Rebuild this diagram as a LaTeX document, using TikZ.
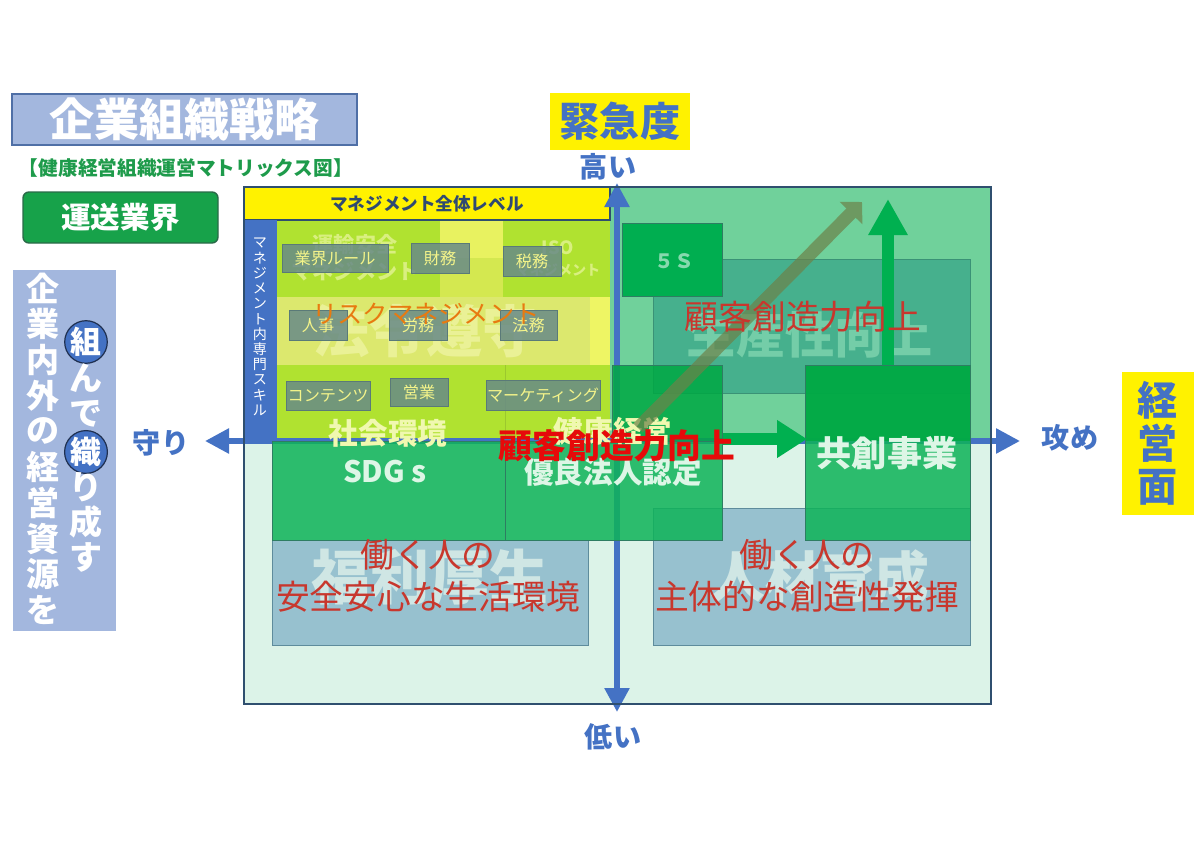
\documentclass[tikz,border=0pt]{standalone}
\usepackage{fontspec}
\setmainfont{Noto Sans CJK JP}
\usepackage{tikz}
\usetikzlibrary{arrows.meta, fit}
\definecolor{TitleFill}{HTML}{A3B7DE}
\definecolor{TitleEdge}{HTML}{4F6FA6}
\definecolor{LabelGreen}{HTML}{1E9B4B}
\definecolor{TradeGreen}{HTML}{17A24A}
\definecolor{TradeEdge}{HTML}{2A6A48}
\definecolor{AxisBlue}{HTML}{4472C4}
\definecolor{RingEdge}{HTML}{1F2F4F}
\definecolor{FrameEdge}{HTML}{2F4F6F}
\definecolor{UpperGreen}{HTML}{70D19B}
\definecolor{LowerMint}{HTML}{DCF3E8}
\definecolor{HeadText}{HTML}{2F4A72}
\definecolor{Lime}{HTML}{B0E230}
\definecolor{LimeLight}{HTML}{E8F260}
\definecolor{LimeMid}{HTML}{D4E850}
\definecolor{LimeBand}{HTML}{DCE86E}
\definecolor{LimeStrip}{HTML}{EEF564}
\definecolor{LimeLine}{HTML}{9CC82E}
\definecolor{SkillGrey}{HTML}{688A88}
\definecolor{SkillEdge}{HTML}{5A7A78}
\definecolor{SkillText}{HTML}{F4F48A}
\definecolor{BoxGreen}{HTML}{0EB358}
\definecolor{BoxGreenHi}{HTML}{00A843}
\definecolor{FiveSFill}{HTML}{00AE50}
\definecolor{BoxEdge}{HTML}{2E7D62}
\definecolor{Teal}{HTML}{46B08D}
\definecolor{TealEdge}{HTML}{3A9276}
\definecolor{PaleBlue}{HTML}{97C1CF}
\definecolor{PaleEdge}{HTML}{5E8C9C}
\definecolor{FadeTeal}{HTML}{74CDA8}
\definecolor{FadeBlue}{HTML}{CFE6E4}
\definecolor{FadeLime}{HTML}{D9EF80}
\definecolor{FadeBand}{HTML}{EAF196}
\definecolor{FadeYellow}{HTML}{F0F8B0}
\definecolor{BoxText}{HTML}{DDF6E6}
\definecolor{FiveS}{HTML}{86D9AE}
\definecolor{RedText}{HTML}{C8372D}
\definecolor{CoreRed}{HTML}{E60A0A}
\definecolor{RiskOrange}{HTML}{E87A10}
\definecolor{ArrowGreen}{HTML}{00B050}
\definecolor{ArrowOlive}{HTML}{6D8249}
\newcommand\fsz[1]{\fontsize{#1}{#1}\selectfont}

\begin{document}
\begin{tikzpicture}[x=0.25mm, y=-0.25mm,
  box/.style={rectangle, inner sep=0pt},
  word/.style={inner sep=0pt},
  titlebox/.style={box, draw=TitleEdge, line width=0.35mm, fill=TitleFill},
  tradebox/.style={box, rounded corners=1.5mm, draw=TradeEdge, line width=0.35mm, fill=TradeGreen},
  vchar/.style={word, text=white, font=\fsz{23.5}\bfseries},
  ring/.style={circle, draw=RingEdge, line width=0.3mm, fill=AxisBlue,
    minimum size=9mm, inner sep=0pt, text=white, font=\fsz{22}\bfseries},
  tagtext/.style={word, text=AxisBlue, font=\fsz{28.5}\bfseries},
  axislabel/.style={word, text=AxisBlue, font=\fsz{20}\bfseries},
  axis/.style={line width=1.4mm, AxisBlue, <->, >={Triangle[length=6mm, width=6mm]}},
  skill/.style={box, draw=SkillEdge, line width=0.2mm, fill=SkillGrey, fill opacity=0.85},
  skilltext/.style={word, text=SkillText, font=\fsz{11.5}},
  gbox/.style={box, draw=BoxEdge, line width=0.25mm, fill=BoxGreen, fill opacity=0.85},
  gtext/.style={word, text=BoxText, font=\fsz{21}\bfseries},
  tealbox/.style={box, draw=TealEdge, line width=0.25mm, fill=Teal},
  palebox/.style={box, draw=PaleEdge, line width=0.25mm, fill=PaleBlue},
  faint/.style={word, font=\bfseries},
  redtext/.style={word, text=RedText, font=\fontsize{24}{30}\selectfont, align=center},
  garrow/.style={line width=3mm, ArrowGreen, -{Triangle[#1]}},
  garrow/.default={length=9mm, width=9.25mm}
]
\useasboundingbox (0,0) rectangle (1200,849);

\node[titlebox, fit={(12,94) (357,145)}] (title) {};
\node[word, text=white, font=\fsz{32}\bfseries] (title-t) at (title) {企業組織戦略};
\node[word, text=LabelGreen, font=\fsz{14}\bfseries] (subtitle) at (186,168) {【健康経営組織運営マトリックス図】};
\node[tradebox, fit={(23,192) (218,243)}] (trade) {};
\node[word, text=white, font=\fsz{21}\bfseries] (trade-t) at (trade) {運送業界};

\node[box, fill=TitleFill, fit={(13,270) (116,631)}] (side) {};
\foreach \c [count=\i from 0] in {企,業,内,外,の,経,営,資,源,を}
  \node[vchar] (res\i) at (43,288+35.8*\i) {\c};
\node[ring] (kumi) at (86,342) {組};
\foreach \c [count=\i] in {ん,で}
  \node[vchar] (weave\i) at (86,342+36*\i) {\c};
\node[ring] (ori) at (86,452) {織};
\foreach \c [count=\i] in {り,成,す}
  \node[vchar] (make\i) at (86,452+35*\i) {\c};

\fill[UpperGreen] (610,187) rectangle (991,441);
\fill[LowerMint] (244,441) rectangle (991,704);
\fill[Lime] (277,220) rectangle (610,441);
\fill[LimeLight] (440,220) rectangle (503,258);
\fill[LimeMid] (440,258) rectangle (503,297);
\fill[LimeBand] (277,297) rectangle (590,365);
\fill[LimeStrip] (590,297) rectangle (610,365);
\draw[LimeLine] (505,365) -- (505,441);

\node[box, draw=FrameEdge, line width=0.3mm, fill=yellow, fit={(244,187) (610,220)}] (mgmt) {};
\node[word, text=HeadText, font=\fsz{12.5}\bfseries] (mgmt-t) at (mgmt) {マネジメント全体レベル};
\node[box, fill=AxisBlue, fit={(244,220) (277,441)}] (strip) {};
\foreach \c [count=\i from 0] in {マ,ネ,ジ,メ,ン,ト,内,専,門,ス,キ,ル}
  \node[word, text=white, font=\fsz{10}] (skill\i) at (260,243+15.2*\i) {\c};

\node[faint, text=FadeLime, align=center, font=\fontsize{15}{19}\selectfont\bfseries] (transport) at (355,258) {運輸安全\\マネジメント};
\node[faint, text=FadeLime, align=center, font=\fontsize{10}{15}\selectfont\bfseries] (iso) at (558,259) {{\fsz{13}ISO}\\マネジメント};
\node[faint, text=FadeBand, font=\fsz{40}\bfseries] (compliance) at (426,331) {法令遵守};

\node[skill, fit={(282,244) (388,272)}] (rules) {};
\node[skill, fit={(411,243) (469,273)}] (finance) {};
\node[skill, fit={(503,246) (561,276)}] (tax) {};
\node[skill, fit={(289,310) (347,340)}] (hr) {};
\node[skill, fit={(389,310) (447,340)}] (labor) {};
\node[skill, fit={(500,310) (557,340)}] (legal) {};
\node[skill, fit={(286,381) (370,410)}] (contents) {};
\node[skill, fit={(390,378) (448,406)}] (sales) {};
\node[skill, fit={(486,380) (600,410)}] (marketing) {};
\node[skilltext] (rules-t) at (rules) {業界ルール};
\node[skilltext] (finance-t) at (finance) {財務};
\node[skilltext] (tax-t) at (tax) {税務};
\node[skilltext] (hr-t) at (hr) {人事};
\node[skilltext] (labor-t) at (labor) {労務};
\node[skilltext] (legal-t) at (legal) {法務};
\node[skilltext] (contents-t) at (contents) {コンテンツ};
\node[skilltext] (sales-t) at (sales) {営業};
\node[skilltext] (marketing-t) at (marketing) {マーケティング};
\node[word, text=RiskOrange, font=\fsz{18}] (risk) at (426,314) {リスクマネジメント};

\coordinate (ax-w) at (205,441);
\coordinate (ax-e) at (1020,441);
\coordinate (ax-n) at (617,183);
\coordinate (ax-s) at (617,712);
\draw[axis] (ax-w) -- (ax-e);
\draw[axis] (ax-s) -- (ax-n);

\node[tealbox, fit={(653,259) (970,393)}] (productivity) {};
\node[faint, text=FadeTeal, font=\fsz{35}\bfseries] (productivity-t) at (810,335) {生産性向上};
\node[gbox, fill=FiveSFill, fill opacity=1, fit={(622,223) (722,296)}] (fives) {};
\node[word, text=FiveS, font=\fsz{14}\bfseries] (fives-t) at (674,261) {５Ｓ};
\node[gbox, fill=BoxGreenHi, fit={(612,365) (722,441)}] (health) {};

\node[palebox, fit={(272,540) (588,645)}] (welfare) {};
\node[palebox, fit={(653,508) (970,645)}] (talent) {};
\node[faint, text=FadeBlue, font=\fsz{42}\bfseries] (welfare-t) at (430,577) {福利厚生};
\node[faint, text=FadeBlue, font=\fsz{39}\bfseries] (talent-t) at (820,577) {人材育成};

\node[gbox, fit={(272,441) (505,540)}] (sdgs) {};
\node[gtext] (sdgs-t) at (385,472) {SDG s};
\node[gbox, fit={(505,441) (722,540)}] (yuryo) {};
\node[gtext] (yuryo-t) at (613,472) {優良法人認定};
\node[gbox, fit={(805,365) (970,540)},
  path picture={\fill[BoxGreenHi] (path picture bounding box.north west)
    rectangle ([yshift=-19mm]path picture bounding box.north east);}] (cocreate) {};
\node[gtext, font=\fsz{25}\bfseries] (cocreate-t) at (887,453) {共創事業};

\node[faint, text=FadeYellow, font=\fsz{21}\bfseries] (society) at (388,433) {社会環境};
\node[faint, text=FadeYellow, font=\fsz{21}\bfseries] (health-t) at (613,431) {健康経営};

\coordinate (dtail) at (638,428);
\coordinate (dtip) at (862,202);
\begin{scope}[transparency group, opacity=0.7]
  \draw[line width=3.25mm, ArrowOlive, -{Triangle[length=3.9mm, width=7.8mm]}] (dtail) -- (dtip);
\end{scope}
\coordinate (uptip) at (888,199);
\draw[garrow] (cocreate.north -| uptip) -- (uptip);
\coordinate (rtip) at (807,439);
\draw[garrow={length=7.5mm, width=9mm}] (yuryo.east |- rtip) -- (rtip);

\node[box, draw=FrameEdge, line width=0.4mm, fit={(244,187) (991,704)}] (matrix) {};

\node[box, fill=yellow, fit={(550,93) (690,150)}] (urgency) {};
\node[tagtext] (urgency-t) at (urgency) {緊急度};
\node[axislabel] (high) at (608,167) {高い};
\node[axislabel] (low) at (613,737) {低い};
\node[axislabel] (defend) at (161,443) {守り};
\node[axislabel] (attack) at (1070,438) {攻め};
\node[box, fill=yellow, fit={(1122,372) (1194,515)}] (aspect) {};
\foreach \c [count=\i from 0] in {経,営,面}
  \node[tagtext] (aspect\i) at (1158,400+43.5*\i) {\c};

\node[word, text=RedText, font=\fsz{24}] (growth) at (803,317) {顧客創造力向上};
\node[redtext] (care) at (428,576) {働く人の\\安全安心な生活環境};
\node[redtext] (create) at (807,576) {働く人の\\主体的な創造性発揮};
\node[word, text=CoreRed, font=\fsz{24}\bfseries] (core) at (617,446) {顧客創造力向上};
\end{tikzpicture}
\end{document}
